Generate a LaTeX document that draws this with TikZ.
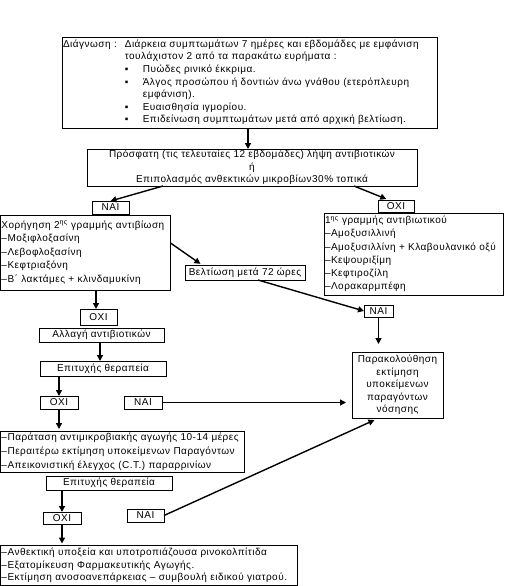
\documentclass[tikz,border=0pt]{standalone}
\usepackage{fontspec}
\setmainfont{Liberation Sans}[LetterSpace=5.0]
\usetikzlibrary{arrows.meta,calc}
\newcommand{\fsz}[1]{\fontsize{10}{#1}\selectfont}
\newcommand{\bul}{\makebox[18pt][l]{▪}}
\begin{document}
\begin{tikzpicture}[x=1pt,y=-1pt,
  box/.style={draw, line width=0.8pt, inner sep=1pt, outer sep=0pt},
  arr/.style={line width=1.4pt, -{Triangle[length=6pt,width=6pt]}}]
\useasboundingbox (0,0) rectangle (504,586);
% diagnosis
\node[box, minimum width=375pt, minimum height=91pt, text width=373pt, align=left, font=\fsz{12.6}] (diag) at (249.5,82.5) {%
\begin{tabular}{@{}l@{\hspace{8pt}}l@{}}
Διάγνωση : & Διάρκεια συμπτωμάτων 7 ημέρες και εβδομάδες με εμφάνιση\\
& τουλάχιστον 2 από τα παρακάτω ευρήματα :\\
& \bul Πυώδες ρινικό έκκριμα.\\
& \bul Άλγος προσώπου ή δοντιών άνω γνάθου (ετερόπλευρη\\
& \hspace{18pt}εμφάνιση).\\
& \bul Ευαισθησία ιγμορίου.\\
& \bul Επιδείνωση συμπτωμάτων μετά από αρχική βελτίωση.
\end{tabular}};
\node[box, minimum width=330pt, minimum height=37pt, align=center, font=\fsz{12.5}] (prof) at (252,167.5)
  {Πρόσφατη (τις τελευταίες 12 εβδομάδες) λήψη αντιβιοτικών\\ή\\Επιπολασμός ανθεκτικών μικροβίων30\% τοπικά};
\node[box, minimum width=37pt, minimum height=13pt, font=\fsz{12}] (nai1) at (110.5,207.5) {ΝΑΙ};
\node[box, minimum width=36pt, minimum height=12pt, font=\fsz{12}] (oxi1) at (396,206.5) {ΟΧΙ};
\node[box, minimum width=170pt, minimum height=75pt, text width=168pt, align=left, font=\fsz{13.5}] (xor) at (85.5,252.5)
  {Χορήγηση 2\textsuperscript{ης} γραμμής αντιβίωση\\–Μοξιφλοξασίνη\\–Λεβοφλοξασίνη\\–Κεφτριαξόνη\\–Β΄ λακτάμες + κλινδαμυκίνη};
\node[box, minimum width=179pt, minimum height=82pt, text width=177pt, align=left, font=\fsz{13.2}] (first) at (413.5,254)
  {1\textsuperscript{ης} γραμμής αντιβιωτικού\\–Αμοξυσιλλινή\\–Αμοξυσιλλίνη + Κλαβουλανικό οξύ\\–Κεψουριξίμη\\–Κεφτιροζίλη\\–Λορακαρμπέφη};
\node[box, minimum width=120pt, minimum height=15pt, font=\fsz{12}] (belt) at (245,272.5) {Βελτίωση μετά 72 ώρες};
\node[box, minimum width=29pt, minimum height=12pt, font=\fsz{12}] (nai2) at (378.5,311) {ΝΑΙ};
\node[box, minimum width=37pt, minimum height=16pt, font=\fsz{12}] (oxi2) at (98.5,317) {ΟΧΙ};
\node[box, minimum width=125pt, minimum height=14pt, font=\fsz{12}] (allagi) at (101.5,335) {Αλλαγή αντιβιοτικών};
\node[box, minimum width=126pt, minimum height=15pt, font=\fsz{12}] (epit1) at (103,368.5) {Επιτυχής θεραπεία};
\node[box, minimum width=38pt, minimum height=13pt, font=\fsz{12}] (oxi3) at (59,402.5) {ΟΧΙ};
\node[box, minimum width=38pt, minimum height=13pt, font=\fsz{12}] (nai3) at (143,402.5) {ΝΑΙ};
\node[box, minimum width=91pt, minimum height=66pt, align=center, font=\fsz{12.5}] (parak) at (397.5,385)
  {Παρακολούθηση\\εκτίμηση\\υποκείμενων\\παραγόντων\\νόσησης};
\node[box, minimum width=244pt, minimum height=41pt, text width=242pt, align=left, font=\fsz{14}] (parat) at (122.5,451.5)
  {–Παράταση αντιμικροβιακής αγωγής 10-14 μέρες\\–Περαιτέρω εκτίμηση υποκείμενων Παραγόντων\\–Απεικονιστική έλεγχος (C.T.) παραρρινίων};
\node[box, minimum width=126pt, minimum height=14pt, font=\fsz{12}] (epit2) at (109,483) {Επιτυχής θεραπεία};
\node[box, minimum width=38pt, minimum height=12pt, font=\fsz{12}] (oxi4) at (62,518) {ΟΧΙ};
\node[box, minimum width=37pt, minimum height=13pt, font=\fsz{12}] (nai4) at (145.5,515.5) {ΝΑΙ};
\node[box, minimum width=297pt, minimum height=40pt, text width=295pt, align=left, font=\fsz{12.5}] (bottom) at (149,565.5)
  {–Ανθεκτική υποξεία και υποτροπιάζουσα ρινοκολπίτιδα\\–Εξατομίκευση Φαρμακευτικής Αγωγής.\\–Εκτίμηση ανοσοανεπάρκειας – συμβουλή ειδικού γιατρού.};
% helper coordinates
\coordinate (x248) at (248,0);
\coordinate (x163) at (163,0);
\coordinate (x354) at (354,0);
\coordinate (x390) at (390,0);
\coordinate (y243) at (0,243);
\coordinate (x202) at (202,0);
\coordinate (x258) at (258,0);
\coordinate (x96) at (96,0);
\coordinate (x100) at (100,0);
\coordinate (x379) at (379,0);
% arrows
\draw[arr] (diag.south -| x248) -- (prof.north -| x248);
\draw[arr] (prof.south -| x163) -- (nai1.north);
\draw[arr, shorten >=4pt] (prof.south -| x354) -- (oxi1.north -| x390);
\draw[arr, shorten >=2pt] (xor.east |- y243) -- (belt.north -| x202);
\draw[arr] (belt.south -| x258) -- (nai2.west);
\draw[arr] (xor.south -| x96) -- (oxi2.north -| x96);
\draw[arr] (allagi.south -| x100) -- (epit1.north -| x100);
\draw[arr] (epit1.south -| oxi3.north) -- (oxi3.north);
\draw[arr, shorten >=8pt] (nai2.south) -- (parak.north -| nai2.south);
\draw[arr, shorten >=6pt] (nai3.east) -- (parak.west |- nai3.east);
\draw[arr, shorten >=2pt] (oxi3.south) -- (parat.north -| oxi3.south);
\draw[arr] (epit2.south -| oxi4.north) -- (oxi4.north);
\draw[arr, shorten >=2pt] (oxi4.south) -- (bottom.north -| oxi4.south);
\draw[arr, shorten >=5pt] (nai4.east) -- (parak.south -| x379);
\end{tikzpicture}
\end{document}
